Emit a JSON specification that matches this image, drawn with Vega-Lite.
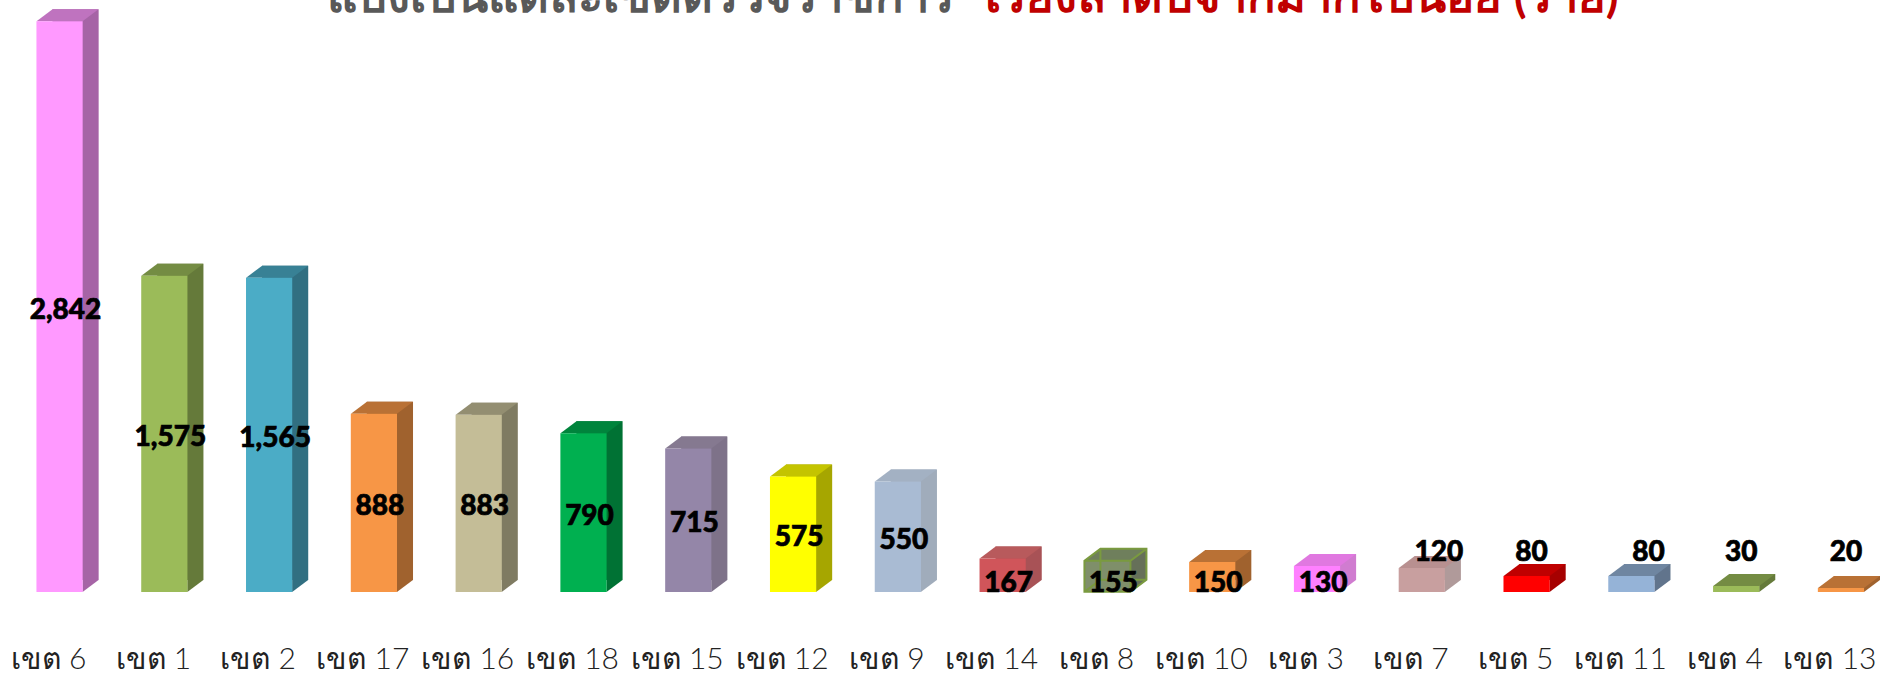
{
"$schema":"https://vega.github.io/schema/vega-lite/v6.json",
"width":1880,"height":592,
"autosize":{"type":"none"},
"padding":{"left":0,"top":0,"right":0,"bottom":81},
"background":"white",
"view":{"stroke":null},
"datasets":{"rows":[
{"zone":"เขต 6","value":2842},{"zone":"เขต 1","value":1575},{"zone":"เขต 2","value":1565},{"zone":"เขต 17","value":888},{"zone":"เขต 16","value":883},{"zone":"เขต 18","value":790},{"zone":"เขต 15","value":715},{"zone":"เขต 12","value":575},{"zone":"เขต 9","value":550},{"zone":"เขต 14","value":167},{"zone":"เขต 8","value":155},{"zone":"เขต 10","value":150},{"zone":"เขต 3","value":130},{"zone":"เขต 7","value":120},{"zone":"เขต 5","value":80},{"zone":"เขต 11","value":80},{"zone":"เขต 4","value":30},{"zone":"เขต 13","value":20}]},
"data":{"name":"rows"},
"encoding":{
"x":{"field":"zone","type":"nominal","sort":null,"title":null,
"scale":{"type":"band","range":[7.1,1893.4],"paddingInner":0.559,"paddingOuter":0.28},
"axis":{"domain":false,"ticks":false,"labelAngle":0,"labelFontSize":30,"labelFont":"Lato","labelFontWeight":300,"labelColor":"#222222","labelPadding":67,"labelBaseline":"middle","labelOffset":-11,"grid":false}},
"y":{"field":"value","type":"quantitative","title":null,"scale":{"domain":[0,2948],"nice":false},"axis":null}
},
"layer":[
{"mark":{"type":"bar","xOffset":16,"yOffset":-12},
 "encoding":{"color":{"field":"zone","type":"nominal","sort":null,"legend":null,
 "scale":{"domain":["เขต 6","เขต 1","เขต 2","เขต 17","เขต 16","เขต 18","เขต 15","เขต 12","เขต 9","เขต 14","เขต 8","เขต 10","เขต 3","เขต 7","เขต 5","เขต 11","เขต 4","เขต 13"],
 "range":["#a664a6","#657a3a","#316f81","#a0622e","#7f7b62","#007234","#7e7289","#a6a600","#a0acbb","#a85256","#667059","#a0622e","#d07cd0","#b09a9a","#a60000","#61748c","#657a3a","#a0622e"]}}}},
{"mark":{"type":"point","filled":true,"size":4,"strokeWidth":0,"opacity":1,"shape":"M23,0 L39,-12 L23,-12 Z"},
 "encoding":{"y":{"datum":0},"color":{"field":"zone","type":"nominal","sort":null,"legend":null,
 "scale":{"domain":["เขต 6","เขต 1","เขต 2","เขต 17","เขต 16","เขต 18","เขต 15","เขต 12","เขต 9","เขต 14","เขต 8","เขต 10","เขต 3","เขต 7","เขต 5","เขต 11","เขต 4","เขต 13"],
 "range":["#a664a6","#657a3a","#316f81","#a0622e","#7f7b62","#007234","#7e7289","#a6a600","#a0acbb","#a85256","#667059","#a0622e","#d07cd0","#b09a9a","#a60000","#61748c","#657a3a","#a0622e"]}}}},
{"mark":{"type":"point","filled":true,"size":4,"strokeWidth":0,"opacity":1,"shape":"M-23,0 L-7,-12 L39,-12 L23,0 Z"},
 "encoding":{"color":{"field":"zone","type":"nominal","sort":null,"legend":null,
 "scale":{"domain":["เขต 6","เขต 1","เขต 2","เขต 17","เขต 16","เขต 18","เขต 15","เขต 12","เขต 9","เขต 14","เขต 8","เขต 10","เขต 3","เขต 7","เขต 5","เขต 11","เขต 4","เขต 13"],
 "range":["#bf73bf","#748c43","#388195","#b97135","#938e71","#00843c","#857990","#c4c400","#a3b1c3","#b85a5c","#6f7f5c","#b97135","#e078e0","#b89090","#bf0000","#6f86a1","#748c43","#b97135"]}}}},
{"mark":{"type":"bar"},
 "encoding":{"color":{"field":"zone","type":"nominal","sort":null,"legend":null,
 "scale":{"domain":["เขต 6","เขต 1","เขต 2","เขต 17","เขต 16","เขต 18","เขต 15","เขต 12","เขต 9","เขต 14","เขต 8","เขต 10","เขต 3","เขต 7","เขต 5","เขต 11","เขต 4","เขต 13"],
 "range":["#ff99ff","#9bbb59","#4bacc6","#f79646","#c4bd97","#00b050","#9486a8","#ffff00","#a9bbd3","#d0555a","#7f8f6a","#f79646","#ff80ff","#c89f9f","#ff0000","#95b3d7","#9bbb59","#f79646"]}}}},
{"transform":[{"filter":"datum.zone=='เขต 8'"}],
 "mark":{"type":"point","filled":false,"fill":"transparent","size":4,"opacity":1,"color":"#7a9a3f","stroke":"#7a9a3f","strokeWidth":2,"shape":"M-23,0 L-7,-12 L39,-12 L39,19 L23,31 L-23,31 Z M-7,-12 L-7,19 L-23,31 M-7,19 L39,19 M-23,0 L23,0 L39,-12 M23,0 L23,31"},
 "encoding":{"color":{"value":"#7a9a3f"}}},
{"transform":[{"filter":"datum.value>=550"},{"calculate":"datum.value/2","as":"mid"}],
 "mark":{"type":"text","font":"Lato","fontWeight":900,"fontSize":28,"color":"black","stroke":"black","strokeWidth":0.7,"dx":6,"dy":4,"baseline":"middle"},
 "encoding":{"y":{"field":"mid","type":"quantitative"},"text":{"field":"value","type":"quantitative","format":","}}},
{"transform":[{"filter":"datum.value>=130 && datum.value<=167"}],
 "mark":{"type":"text","font":"Lato","fontWeight":900,"fontSize":28,"color":"black","stroke":"black","strokeWidth":0.7,"dx":6,"dy":-8,"baseline":"middle"},
 "encoding":{"y":{"datum":0},"text":{"field":"value","type":"quantitative","format":","}}},
{"transform":[{"filter":"datum.value<130 && datum.zone!='เขต 7' && datum.zone!='เขต 11'"}],
 "mark":{"type":"text","font":"Lato","fontWeight":900,"fontSize":28,"color":"black","stroke":"black","strokeWidth":0.7,"dx":5,"dy":-39,"baseline":"middle"},
 "encoding":{"y":{"datum":0},"text":{"field":"value","type":"quantitative","format":","}}},
{"transform":[{"filter":"datum.zone=='เขต 7' || datum.zone=='เขต 11'"}],
 "mark":{"type":"text","font":"Lato","fontWeight":900,"fontSize":28,"color":"black","stroke":"black","strokeWidth":0.7,"dx":17,"dy":-39,"baseline":"middle"},
 "encoding":{"y":{"datum":0},"text":{"field":"value","type":"quantitative","format":","}}},
{"transform":[{"filter":"datum.zone=='เขต 15'"}],
 "mark":{"type":"text","font":"Lato","fontWeight":"bold","fontSize":47,"color":"#595959","align":"center","baseline":"alphabetic","dx":-48},
 "encoding":{"y":{"datum":2888},"text":{"value":"แบ่งเป็นแต่ละเขตตรวจราชการ"}}},
{"transform":[{"filter":"datum.zone=='เขต 3'"}],
 "mark":{"type":"text","font":"Lato","fontWeight":"bold","fontSize":47,"color":"#c00000","align":"center","baseline":"alphabetic","dx":-15},
 "encoding":{"y":{"datum":2888},"text":{"value":"เรียงลำดับจากมากไปน้อย (ราย)"}}}
],
"resolve":{"scale":{"color":"independent"}}
}
